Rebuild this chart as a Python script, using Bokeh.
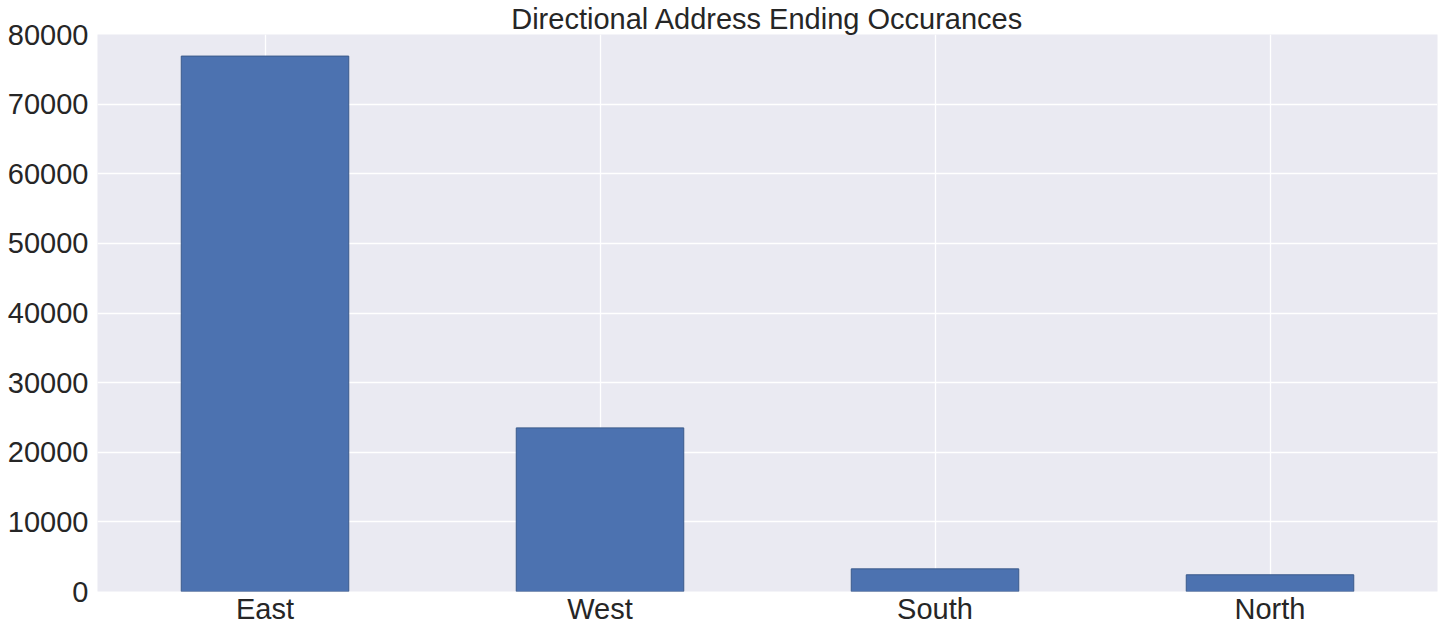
from bokeh.plotting import figure
from bokeh.models import FixedTicker, Range1d, FactorRange, ColumnDataSource
from bokeh.embed import file_html
from bokeh.resources import INLINE

categories = ["East", "West", "South", "North"]
counts = [76900, 23500, 3250, 2400]
y_ticks = [0, 10000, 20000, 30000, 40000, 50000, 60000, 70000, 80000]

TXT = "#262626"
FONT = "Liberation Sans"

src = ColumnDataSource(dict(cat=categories, n=counts))

p = figure(x_range=FactorRange(*categories), y_range=Range1d(0, 80000),
           frame_width=1340, frame_height=557,
           output_backend="svg", toolbar_location=None,
           title="Directional Address Ending Occurances",
           min_border_left=97, min_border_right=6, min_border_bottom=42, min_border_top=0,
           background_fill_color="#EAEAF2", border_fill_color="white", outline_line_color=None)

p.vbar(x="cat", top="n", width=0.5, source=src, fill_color="#4C72B0",
       line_color="#3a5a8a", line_width=1)

p.title.align = "center"
p.title.text_font = FONT
p.title.text_font_size = "29px"
p.title.text_font_style = "normal"
p.title.text_color = TXT
p.title.standoff = 0

p.yaxis.ticker = FixedTicker(ticks=y_ticks)
for ax in (p.xaxis, p.yaxis):
    ax.axis_line_color = None
    ax.major_tick_line_color = None
    ax.minor_tick_line_color = None
    ax.major_tick_out = 0
    ax.major_tick_in = 0
    ax.minor_tick_out = 0
    ax.major_label_text_font = FONT
    ax.major_label_text_font_size = "29px"
    ax.major_label_text_color = TXT
p.yaxis.major_label_standoff = 9
p.xaxis.major_label_standoff = 1

p.grid.grid_line_color = "white"
p.grid.grid_line_width = 1.3
p.ygrid.minor_grid_line_color = None

open("out.html", "w").write(file_html(p, INLINE))
